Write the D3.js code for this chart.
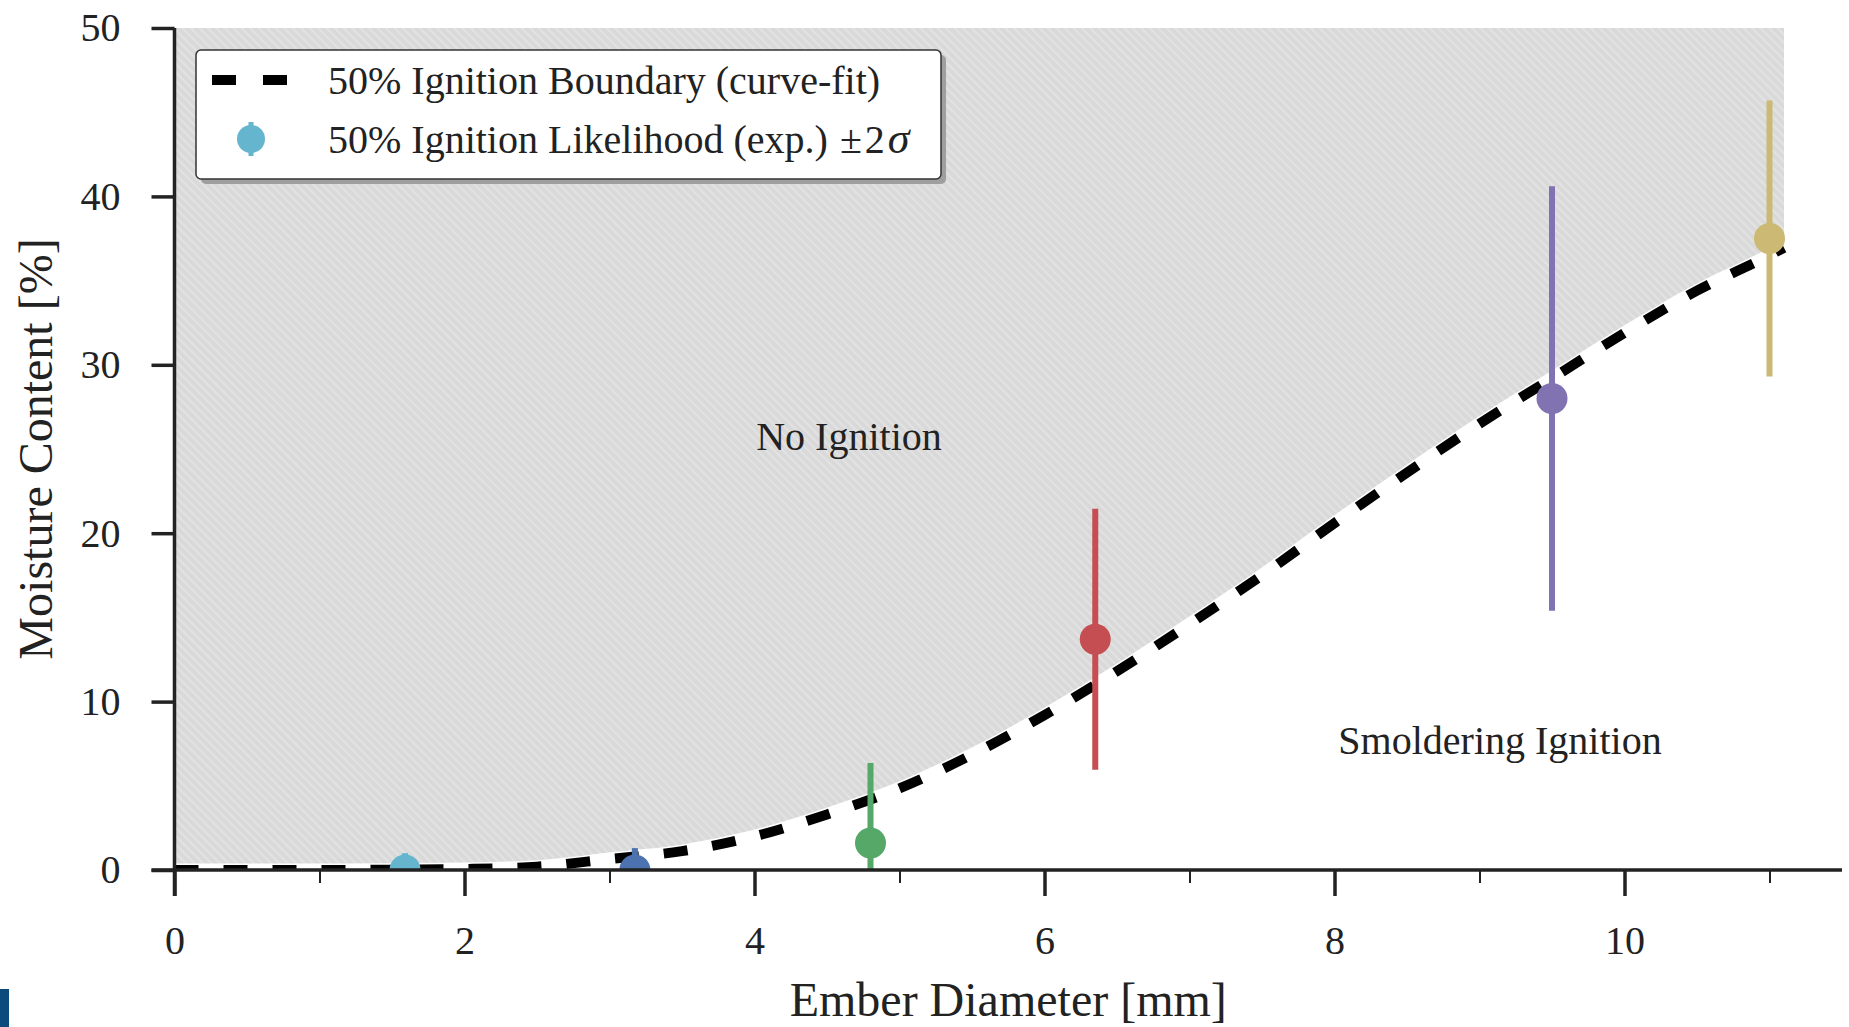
<!DOCTYPE html>
<html>
<head>
<meta charset="utf-8">
<script src="https://cdn.jsdelivr.net/npm/d3@7"></script>
<style>
  html, body { margin: 0; padding: 0; background: #fff; }
  svg { display: block; }
  text { font-family: "Liberation Serif", "Times New Roman", serif; fill: #222; }
</style>
</head>
<body>
<svg id="chart" width="1849" height="1027"></svg>
<script>
// 50% ignition boundary (curve fit): ember diameter [mm] vs moisture content [%]
const boundaryX = [0, 0.5, 1, 1.5, 2, 2.5, 3, 3.5, 4, 4.5, 5, 5.5, 6, 6.5, 7, 7.5, 8, 8.5, 9, 9.5, 10, 10.5, 11, 11.1];
const boundaryY = [0, 0, 0, 0.02, 0.06, 0.2, 0.65, 1.12, 2.0, 3.3, 4.85, 6.85, 9.2, 11.8, 14.6, 17.5, 20.6, 23.6, 26.5, 29.2, 31.9, 34.4, 36.5, 36.95];

// Experimental 50% ignition likelihood with ±2σ
const diameters = [1.59, 3.175, 4.8, 6.35, 9.5, 11.0];
const moisture  = [0.0, 0.0, 1.6, 13.7, 28.0, 37.5];
const twoSigma  = [1.0, 1.3, 4.75, 7.75, 12.6, 8.2];
const palette   = ["#64B5CD", "#4C72B0", "#55A868", "#C44E52", "#8172B2", "#CCB974"];

const xMajorTicks = [0, 2, 4, 6, 8, 10];
const xMinorTicks = [1, 3, 5, 7, 9, 11];
const yTicks = [0, 10, 20, 30, 40, 50];

const legendLabels = ["50% Ignition Boundary (curve-fit)", "50% Ignition Likelihood (exp.) "];
const regionLabels = ["No Ignition", "Smoldering Ignition"];

const svg = d3.select("#chart");

const x = d3.scaleLinear().domain([0, 11.5]).range([174.5, 1842]);
const y = d3.scaleLinear().domain([0, 50]).range([870, 28]);

const boundary = boundaryX.map((d, i) => ({ x: d, y: boundaryY[i] }));
const points = diameters.map((d, i) => ({ x: d, y: moisture[i], e: twoSigma[i], c: palette[i] }));

const defs = svg.append("defs");

// Diagonal hatch for the no-ignition region
const pat = defs.append("pattern")
  .attr("id", "hatch")
  .attr("patternUnits", "userSpaceOnUse")
  .attr("width", 6).attr("height", 6)
  .attr("patternTransform", "rotate(-45)");
pat.append("rect").attr("width", 6).attr("height", 6).attr("fill", "#d9d9d9");
pat.append("rect").attr("x", 0).attr("width", 2.2).attr("height", 6).attr("fill", "#e2e2e2");

defs.append("clipPath").attr("id", "plotClip")
  .append("rect")
  .attr("x", x(0)).attr("y", y(50))
  .attr("width", x(11.5) - x(0)).attr("height", y(0) - y(50));

const plot = svg.append("g").attr("clip-path", "url(#plotClip)");

// Shaded region above the boundary
const area = d3.area()
  .x(d => x(d.x))
  .y0(y(50))
  .y1(d => y(d.y))
  .curve(d3.curveMonotoneX);
plot.append("path").datum(boundary).attr("d", area).attr("fill", "url(#hatch)");

const line = d3.line().x(d => x(d.x)).y(d => y(d.y)).curve(d3.curveMonotoneX);

// White under-stroke so the dash gaps read clean against the shading
plot.append("path").datum(boundary).attr("d", line)
  .attr("fill", "none").attr("stroke", "#fff").attr("stroke-width", 13);

plot.append("path").datum(boundary).attr("d", line)
  .attr("fill", "none").attr("stroke", "#000").attr("stroke-width", 10)
  .attr("stroke-dasharray", "24,25");

// Error bars and markers
const pts = plot.selectAll("g.pt").data(points).join("g").attr("class", "pt");
pts.append("line")
  .attr("x1", d => x(d.x)).attr("x2", d => x(d.x))
  .attr("y1", d => y(d.y - d.e)).attr("y2", d => y(d.y + d.e))
  .attr("stroke", d => d.c).attr("stroke-width", 6);
pts.append("circle")
  .attr("cx", d => x(d.x)).attr("cy", d => y(d.y))
  .attr("r", 15.5).attr("fill", d => d.c);

// Axes
const axisStyle = g => {
  g.select(".domain").attr("stroke", "#222").attr("stroke-width", 3.5);
  g.selectAll(".tick line").attr("stroke", "#222");
  g.selectAll(".tick text").style("font-size", "40px").attr("fill", "#222");
};

svg.append("g")
  .attr("transform", `translate(0,${y(0)})`)
  .call(d3.axisBottom(x).tickValues(xMinorTicks).tickSize(13).tickFormat("").tickSizeOuter(0))
  .call(g => { g.select(".domain").remove(); g.selectAll(".tick line").attr("stroke", "#222").attr("stroke-width", 2); });

svg.append("g")
  .attr("transform", `translate(0,${y(0)})`)
  .call(d3.axisBottom(x).tickValues(xMajorTicks).tickSize(26).tickPadding(30).tickFormat(d3.format("d")).tickSizeOuter(0))
  .call(axisStyle)
  .call(g => g.selectAll(".tick line").attr("stroke-width", 3.5))
  .call(g => g.select(".domain").attr("d", `M${x(0) - 23},0H${x(11.5)}`));

svg.append("g")
  .attr("transform", `translate(${x(0)},0)`)
  .call(d3.axisLeft(y).tickValues(yTicks).tickSize(23).tickPadding(31).tickFormat(d3.format("d")).tickSizeOuter(0))
  .call(axisStyle)
  .call(g => g.selectAll(".tick line").attr("stroke-width", 3.5))
  .call(g => g.select(".domain").attr("d", `M0,${y(50)}V${y(0) + 26}`));

// Axis titles
svg.append("text")
  .attr("x", (x(0) + x(11.5)) / 2).attr("y", 1016)
  .attr("text-anchor", "middle").style("font-size", "48px")
  .text("Ember Diameter [mm]");

svg.append("text")
  .attr("transform", `translate(52,${(y(0) + y(50)) / 2}) rotate(-90)`)
  .attr("text-anchor", "middle").style("font-size", "48px")
  .text("Moisture Content [%]");

// Region annotations
svg.append("text").attr("x", 849).attr("y", 450).attr("text-anchor", "middle")
  .style("font-size", "40px").text(regionLabels[0]);
svg.append("text").attr("x", 1500).attr("y", 754).attr("text-anchor", "middle")
  .style("font-size", "40px").text(regionLabels[1]);

// Legend
const lg = svg.append("g");
lg.append("rect").attr("x", 201).attr("y", 55).attr("width", 745).attr("height", 129)
  .attr("rx", 5).attr("fill", "#8a8a8a").attr("opacity", 0.75);
lg.append("rect").attr("x", 196).attr("y", 50).attr("width", 745).attr("height", 129)
  .attr("rx", 5).attr("fill", "#fff").attr("stroke", "#333").attr("stroke-width", 1.5);

lg.append("line").attr("x1", 212).attr("x2", 287).attr("y1", 80).attr("y2", 80)
  .attr("stroke", "#000").attr("stroke-width", 10).attr("stroke-dasharray", "24,27");
lg.append("text").attr("x", 328).attr("y", 94).style("font-size", "40px").text(legendLabels[0]);

lg.append("line").attr("x1", 251).attr("x2", 251).attr("y1", 122).attr("y2", 156)
  .attr("stroke", palette[0]).attr("stroke-width", 5);
lg.append("circle").attr("cx", 251).attr("cy", 139).attr("r", 14).attr("fill", palette[0]);
const t2 = lg.append("text").attr("x", 328).attr("y", 153).style("font-size", "40px");
t2.append("tspan").text(legendLabels[1]);
t2.append("tspan").attr("dx", 2).text("±");
t2.append("tspan").attr("dx", 3).text("2");
t2.append("tspan").attr("dx", 3).style("font-style", "italic").style("font-size", "44px").text("σ");

// Page-edge marker block
svg.append("rect").attr("x", 0).attr("y", 989).attr("width", 9).attr("height", 38).attr("fill", "#0b4a7c");
</script>
</body>
</html>
